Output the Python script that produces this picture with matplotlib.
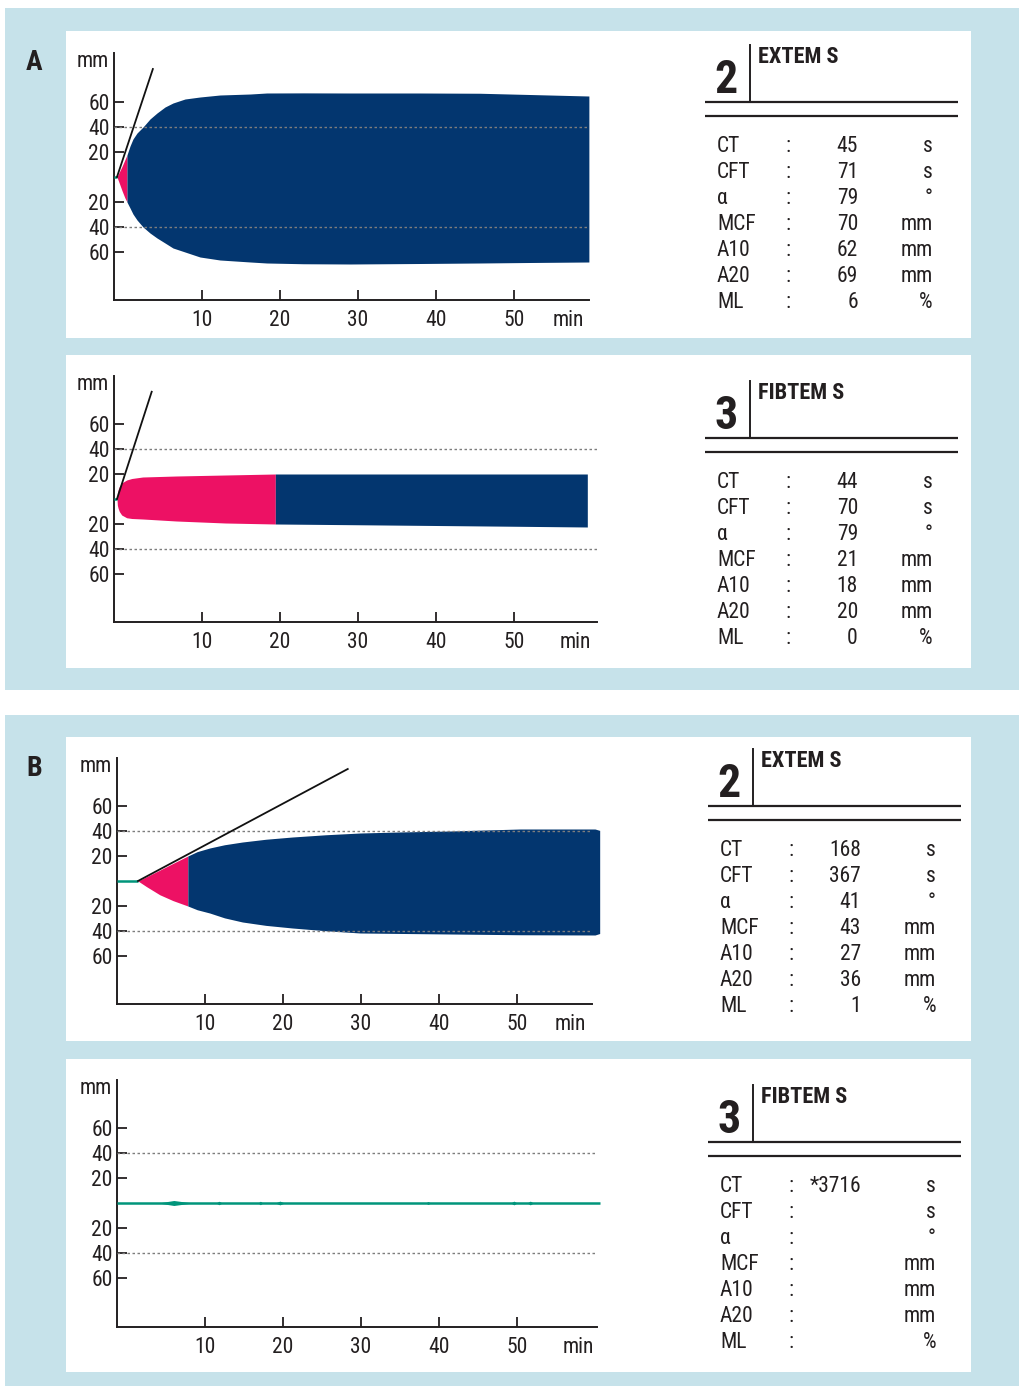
import numpy as np
import matplotlib
matplotlib.use("Agg")
import matplotlib.pyplot as plt
from matplotlib.patches import Rectangle
from matplotlib.lines import Line2D

# ---- trace data (time in min, half-amplitude in mm) ----
extem_a_t = [-0.9, -0.6, -0.25, 0.1, 0.38, 0.77, 1.15, 1.67, 2.44, 3.33, 4.23, 5.26,
             6.28, 7.82, 9.74, 12.3, 16.2, 18.3, 23.0, 29.0, 38.0, 45.6, 52.0, 59.6]
extem_a_up = [0, 4, 8.5, 13.6, 17.6, 24.8, 30.4, 35.2, 40, 46.4, 51.2, 56,
              59.2, 62.4, 64, 65.6, 66.4, 67.2, 67.3, 67.2, 67.2, 67.0, 66.0, 64.8]
extem_a_lo = [0, -5, -11, -16.5, -20, -24.8, -29.6, -34.4, -40, -44.8, -48.8, -52.8,
              -56.8, -60, -64, -66.4, -68, -68.8, -69.4, -69.6, -69.2, -68.8, -68.4, -68]
extem_a_split = 0.38
extem_a_alpha = ([-0.9, 3.7], [0, 86.4])

fibtem_a_t = [-0.9, -0.85, -0.75, -0.6, -0.3, 0.34, 1.0, 2.4, 6.7, 13.0, 19.4, 30, 40, 50, 59.4]
fibtem_a_up = [0, 5, 7.5, 10, 12.8, 15.2, 16.4, 17.6, 18.4, 19.2, 20, 20, 20, 20, 20]
fibtem_a_lo = [0, -5, -7.5, -10, -12.8, -15, -15.6, -16, -17.6, -19.2, -20, -20.6, -21.2, -21.8, -22.4]
fibtem_a_split = 19.4
fibtem_a_alpha = ([-0.9, 3.55], [0, 85.8])

extem_b_t = [1.41, 2.5, 4.2, 5.9, 7.8, 9.0, 10.6, 12.5, 14.8, 17.8, 21.2, 25.5, 29.9,
             35.5, 41.4, 50.4, 60.0, 60.6]
extem_b_up = [0, 3.4, 8.7, 14.1, 20, 23.5, 26.4, 29.0, 31.2, 33.4, 35.2, 37.0, 38.4,
              39.3, 40, 41.6, 41.6, 40.5]
extem_b_lo = [0, -4.5, -11, -15.7, -20, -23.0, -25.6, -29.5, -32.8, -35.5, -37.6, -39.8,
              -41.6, -42.0, -42.4, -43, -43.2, -42]
extem_b_split = 7.8
extem_b_alpha = ([1.41, 28.3], [0, 89.6])

fibtem_b_t = [-1.28, 4.0, 6.0, 8.4, 11.4, 11.8, 12.2, 16.8, 17.1, 17.4, 19.0, 19.6, 20.2,
              38.3, 38.6, 38.9, 49.2, 49.6, 50.0, 51.3, 51.7, 52.1, 60.6]
fibtem_b_amp = [0, 0, 2.0, 0, 0, 1.4, 0, 0, 1.4, 0, 0, 1.5, 0,
                0, 1.2, 0, 0, 1.5, 0, 0, 1.5, 0, 0]

x_ticks = [10, 20, 30, 40, 50]
y_ticks = [60, 40, 20, -20, -40, -60]
y_tick_labels = ["60", "40", "20", "20", "40", "60"]

# ---- result tables ----
param_names = ["CT", "CFT", "α", "MCF", "A10", "A20", "ML"]
param_units = ["s", "s", "°", "mm", "mm", "mm", "%"]
extem_a_vals = ["45", "71", "79", "70", "62", "69", "6"]
fibtem_a_vals = ["44", "70", "79", "21", "18", "20", "0"]
extem_b_vals = ["168", "367", "41", "43", "27", "36", "1"]
fibtem_b_vals = ["*3716", "", "", "", "", "", ""]

W, H = 1019, 1386
PX_MIN, PX_MM = 7.8, 1.25

BG = "#c6e2ea"
NAVY = "#03366f"
PINK = "#ed1164"
TEAL = "#00957b"
INK = "#231f20"
DASH = "#7d7d7d"

# narrow face if one is around, otherwise plain DejaVu
plt.rcParams["font.family"] = ["Roboto Condensed", "Liberation Sans Narrow",
                               "Noto Sans", "DejaVu Sans"]
plt.rcParams["font.stretch"] = "condensed"

fig = plt.figure(figsize=(W / 100, H / 100), dpi=100)


def fx(x):
    return x / W


def fy(y):
    return 1 - y / H


def block(x0, y0, x1, y1, color):
    fig.add_artist(Rectangle((fx(x0), fy(y1)), (x1 - x0) / W, (y1 - y0) / H,
                             transform=fig.transFigure, facecolor=color,
                             edgecolor="none", zorder=0))


def hline(x0, x1, y, lw):
    fig.add_artist(Line2D([fx(x0), fx(x1)], [fy(y), fy(y)], transform=fig.transFigure,
                          color=INK, lw=lw, solid_capstyle="butt"))


def make_chart(axis_x, zero_x, right_x, top_y, center_y, bottom_y, min_x):
    ax = fig.add_axes([fx(axis_x), fy(bottom_y), (right_x - axis_x) / W, (bottom_y - top_y) / H])
    ax.set_xlim((axis_x - zero_x) / PX_MIN, (right_x - zero_x) / PX_MIN)
    ax.set_ylim((center_y - bottom_y) / PX_MM, (center_y - top_y) / PX_MM)
    ax.patch.set_alpha(0)
    for s in ["top", "right"]:
        ax.spines[s].set_visible(False)
    for s in ["left", "bottom"]:
        ax.spines[s].set_linewidth(1.4)
        ax.spines[s].set_color(INK)
    ax.set_xticks(x_ticks, [str(v) for v in x_ticks])
    ax.set_yticks(y_ticks, y_tick_labels)
    ax.tick_params(direction="in", length=7.2, width=1.3, color=INK,
                   labelsize=15.5, labelcolor=INK)
    ax.tick_params(axis="x", pad=7)
    ax.tick_params(axis="y", pad=3)
    trans = ax.get_xaxis_text1_transform(7)[0]
    ax.text((min_x - zero_x) / PX_MIN, 0, "min", transform=trans, ha="center",
            va="top", fontsize=15.5, color=INK)
    ax.annotate("mm", xy=(0, 1), xycoords="axes fraction", xytext=(-4, -6),
                textcoords="offset points", ha="right", va="center",
                fontsize=15.5, color=INK)
    for level in (40, -40):
        ax.axhline(level, color=DASH, lw=1.0, ls=(0, (1.8, 1.8)), zorder=4)
    return ax


def draw_trace(ax, t, up, lo, split, alpha_line):
    t, up, lo = np.asarray(t), np.asarray(up), np.asarray(lo)
    early, late = t <= split, t >= split
    ax.fill_between(t[early], lo[early], up[early], color=PINK, lw=0, zorder=2, clip_on=False)
    ax.fill_between(t[late], lo[late], up[late], color=NAVY, lw=0, zorder=2, clip_on=False)
    ax.plot([ax.get_xlim()[0], t[0]], [0, 0], color=TEAL, lw=1.8,
            solid_capstyle="butt", zorder=3)
    ax.plot(alpha_line[0], alpha_line[1], color="#111111", lw=1.3, zorder=5, clip_on=False)


def draw_table(dx, title_base, number, title, values):
    fig.text(fx(726 + dx), fy(title_base + 30), number, ha="center", va="baseline",
             fontsize=33, fontweight="bold", color=INK)
    fig.add_artist(Line2D([fx(750 + dx)] * 2, [fy(title_base - 18), fy(title_base + 39)],
                          transform=fig.transFigure, color=INK, lw=1.4))
    fig.text(fx(758 + dx), fy(title_base), title, ha="left", va="baseline",
             fontsize=16, fontweight="bold", color=INK)
    hline(705 + dx, 958 + dx, title_base + 39, 1.6)
    hline(705 + dx, 958 + dx, title_base + 53, 1.6)
    for i, (name, val, unit) in enumerate(zip(param_names, values, param_units)):
        base = fy(title_base + 89 + 26 * i)
        fig.text(fx(717 + dx), base, name, ha="left", va="baseline", fontsize=15.5, color=INK)
        fig.text(fx(788 + dx), base, ":", ha="center", va="baseline", fontsize=15.5, color=INK)
        fig.text(fx(858 + dx), base, val, ha="right", va="baseline", fontsize=15.5, color=INK)
        fig.text(fx(933 + dx), base, unit, ha="right", va="baseline", fontsize=15.5, color=INK)


# backgrounds
block(5, 8, W, 690, BG)
block(5, 715, W, H, BG)
for top, bottom in [(31, 338), (355, 668), (737, 1041), (1059, 1372)]:
    block(66, top, 971, bottom, "white")

fig.text(fx(26), fy(70), "A", fontsize=20, fontweight="bold", color=INK, va="baseline")
fig.text(fx(26), fy(776), "B", fontsize=20, fontweight="bold", color=INK, va="baseline")

# panel A
ax1 = make_chart(114, 124, 589, 53, 177, 300, 568)
draw_trace(ax1, extem_a_t, extem_a_up, extem_a_lo, extem_a_split, extem_a_alpha)
draw_table(0, 63, "2", "EXTEM S", extem_a_vals)

ax2 = make_chart(114, 124, 597, 376, 499, 622, 575)
draw_trace(ax2, fibtem_a_t, fibtem_a_up, fibtem_a_lo, fibtem_a_split, fibtem_a_alpha)
draw_table(0, 399, "3", "FIBTEM S", fibtem_a_vals)

# panel B
ax3 = make_chart(117, 127, 592, 758, 881, 1004, 570)
draw_trace(ax3, extem_b_t, extem_b_up, extem_b_lo, extem_b_split, extem_b_alpha)
draw_table(3, 767, "2", "EXTEM S", extem_b_vals)

ax4 = make_chart(117, 127, 597, 1080, 1203, 1327, 578)
amp = np.asarray(fibtem_b_amp)
ax4.plot([fibtem_b_t[0], fibtem_b_t[-1]], [0, 0], color=TEAL, lw=1.8,
         solid_capstyle="butt", zorder=3, clip_on=False)
ax4.fill_between(fibtem_b_t, -amp, amp, color=TEAL, lw=0, zorder=3)
draw_table(3, 1103, "3", "FIBTEM S", fibtem_b_vals)

fig.savefig("out.png", dpi=100)
